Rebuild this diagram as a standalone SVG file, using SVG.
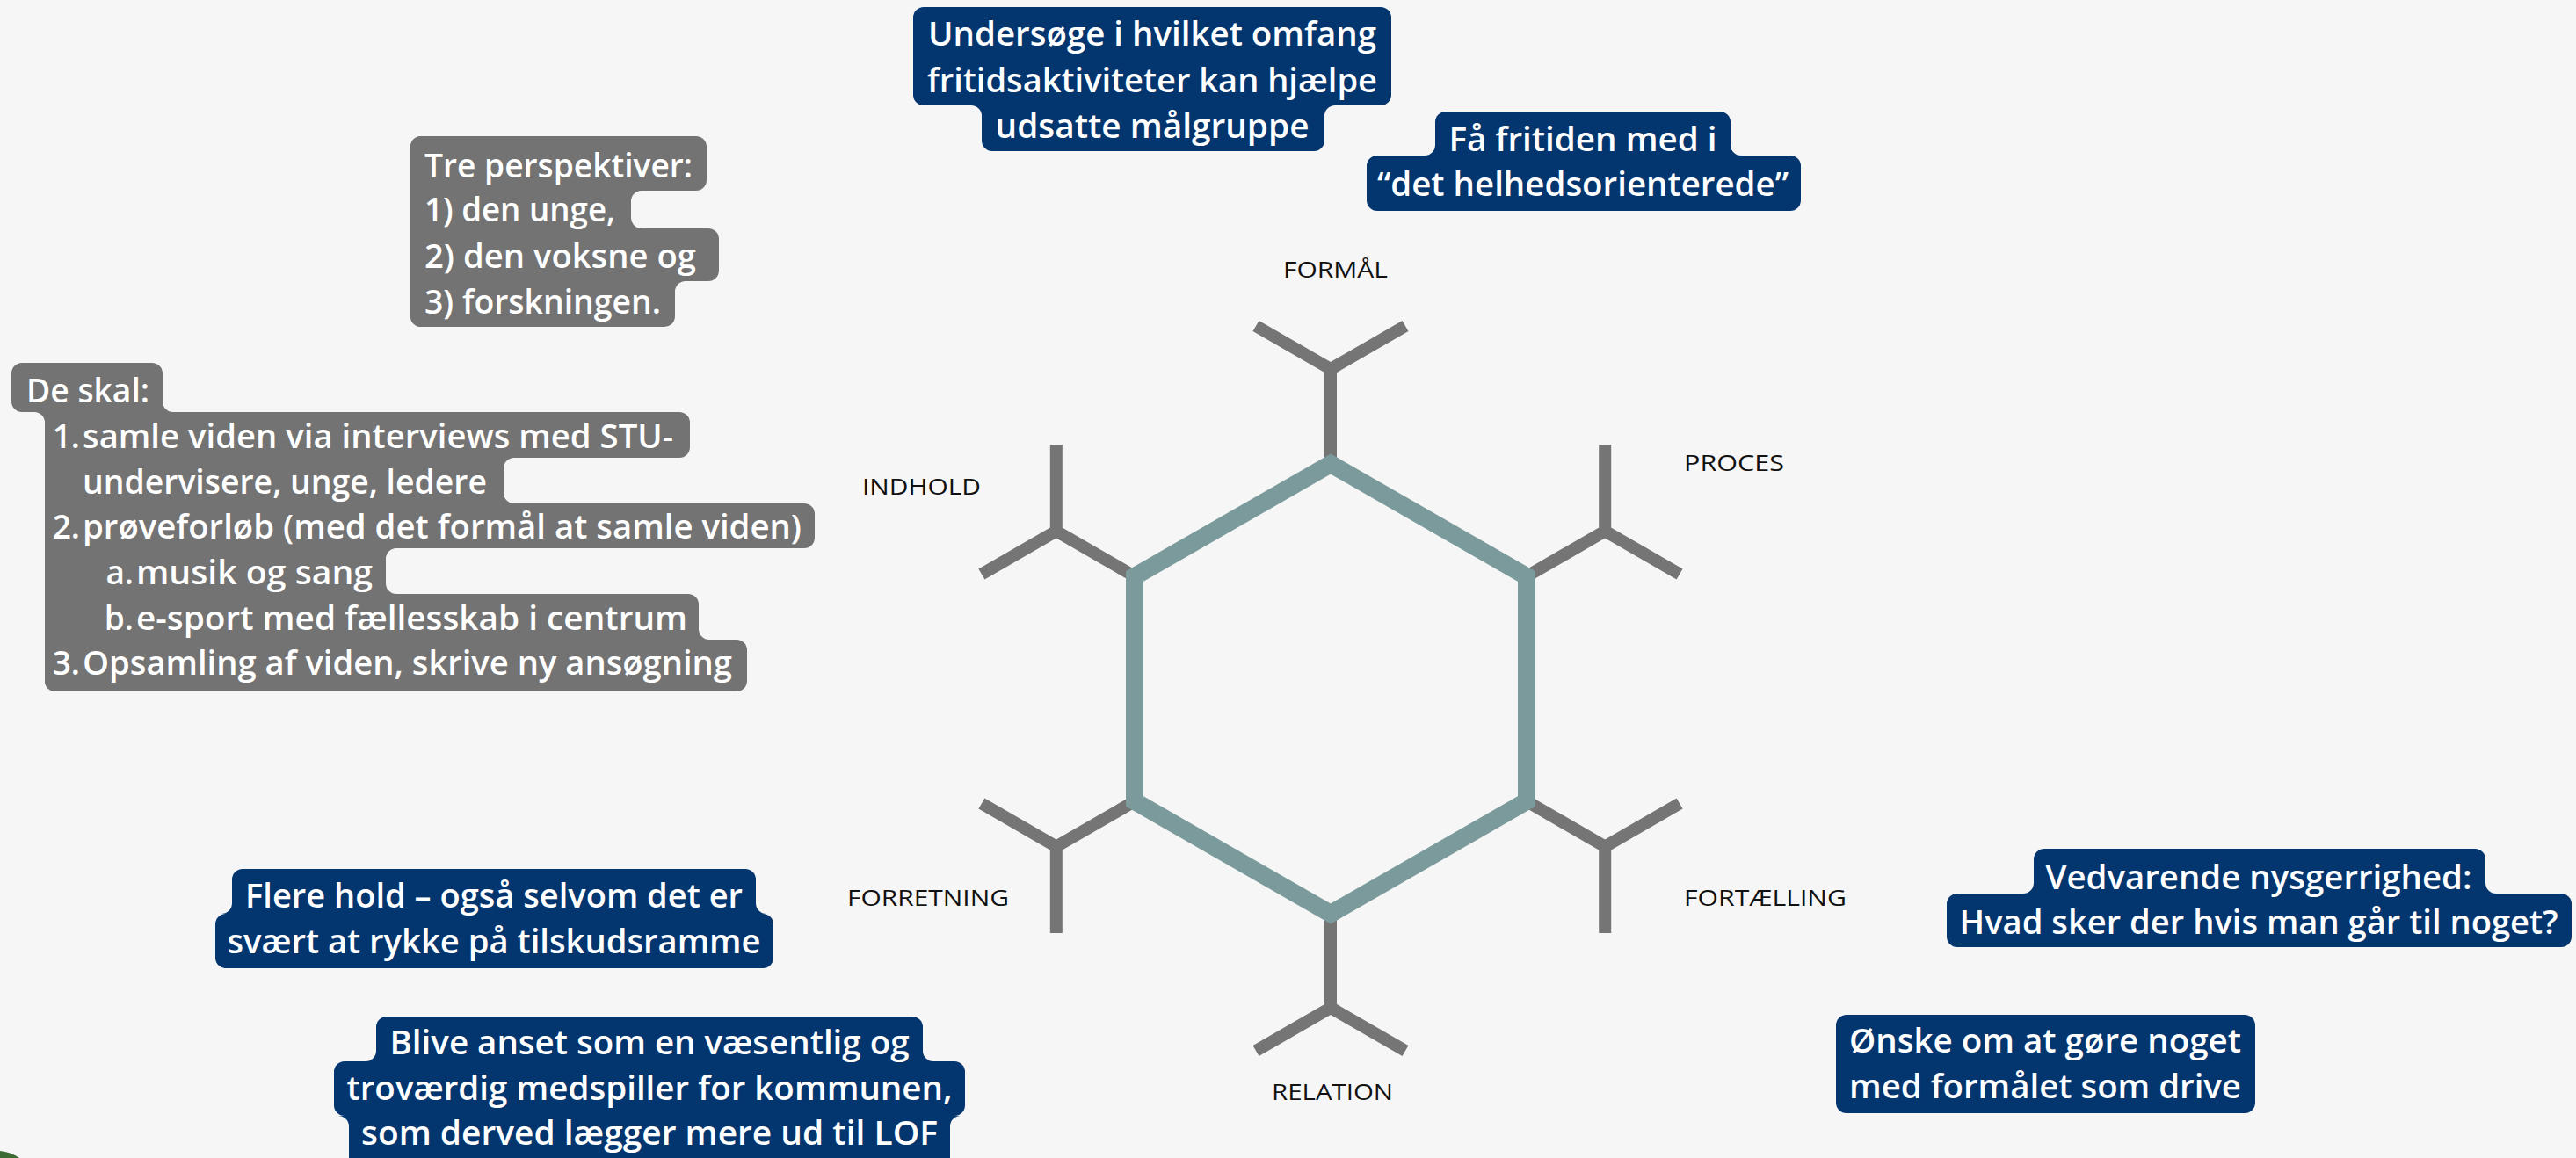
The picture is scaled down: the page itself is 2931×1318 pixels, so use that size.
<svg xmlns="http://www.w3.org/2000/svg" width="2931" height="1318" viewBox="0 0 2931 1318">
<style>
.bl{fill:#03356F}
.gr{fill:#737373}
.t{font-family:"Open Sans","Liberation Sans",sans-serif;font-size:37px;font-weight:600;fill:#ffffff}
.c{text-anchor:middle}
.e{text-anchor:end}
.lab{font-family:"Open Sans","Liberation Sans",sans-serif;font-size:25px;fill:#111111}
.arm{fill:none;stroke:#757575;stroke-width:14;stroke-linecap:butt;stroke-linejoin:miter}
.hex{fill:none;stroke:#7B9A9B;stroke-width:20;stroke-linejoin:miter}
</style>
<rect width="2931" height="1318" fill="#F6F6F6"/>
<path d="M0,1310 Q12,1311 22,1318 L0,1318 Z" fill="#3b6a33"/>

<g id="connectors">
  <line class="arm" x1="1514" y1="528" x2="1514" y2="420"/>
  <polyline class="arm" points="1429,371 1514,420 1599,371"/>
  <line class="arm" x1="1737" y1="656" x2="1826.2" y2="604.5"/>
  <polyline class="arm" points="1826.2,506 1826.2,604.5 1911.1,653.5"/>
  <line class="arm" x1="1737" y1="912" x2="1826.2" y2="963.5"/>
  <polyline class="arm" points="1911.1,914.5 1826.2,963.5 1826.2,1062"/>
  <line class="arm" x1="1514" y1="1040" x2="1514" y2="1147"/>
  <polyline class="arm" points="1429,1196 1514,1147 1599,1196"/>
  <line class="arm" x1="1291" y1="912" x2="1201.8" y2="963.5"/>
  <polyline class="arm" points="1116.9,914.5 1201.8,963.5 1201.8,1062"/>
  <line class="arm" x1="1291" y1="656" x2="1201.8" y2="604.5"/>
  <polyline class="arm" points="1201.8,506 1201.8,604.5 1116.9,653.5"/>
  <polygon class="hex" points="1514,528 1737,656 1737,912 1514,1040 1291,912 1291,656"/>
</g>

<g id="label-formaal"><text class="lab" x="1460" y="316" textLength="119" lengthAdjust="spacingAndGlyphs">FORMÅL</text></g>
<g id="label-proces"><text class="lab" x="1916" y="536" textLength="114" lengthAdjust="spacingAndGlyphs">PROCES</text></g>
<g id="label-indhold"><text class="lab" x="981" y="563" textLength="135" lengthAdjust="spacingAndGlyphs">INDHOLD</text></g>
<g id="label-forretning"><text class="lab" x="964" y="1031" textLength="184" lengthAdjust="spacingAndGlyphs">FORRETNING</text></g>
<g id="label-fortaelling"><text class="lab" x="1916" y="1031" textLength="185" lengthAdjust="spacingAndGlyphs">FORTÆLLING</text></g>
<g id="label-relation"><text class="lab" x="1447" y="1252" textLength="138" lengthAdjust="spacingAndGlyphs">RELATION</text></g>

<g id="box-undersoege">
  <rect class="bl" x="1039" y="8" width="544" height="112" rx="12"/>
  <rect class="bl" x="1117" y="106" width="390" height="66" rx="12"/>
  <path class="bl" d="M1105,120 L1117,120 L1117,132 A12 12 0 0 0 1105,120 Z"/>
  <path class="bl" d="M1519,120 L1507,120 L1507,132 A12 12 0 0 1 1519,120 Z"/>
  <text class="t c" x="1311" y="52" textLength="510" lengthAdjust="spacingAndGlyphs">Undersøge i hvilket omfang</text>
  <text class="t c" x="1311" y="105" textLength="512" lengthAdjust="spacingAndGlyphs">fritidsaktiviteter kan hjælpe</text>
  <text class="t c" x="1311" y="157" textLength="357" lengthAdjust="spacingAndGlyphs">udsatte målgruppe</text>
</g>

<g id="box-fritiden">
  <rect class="bl" x="1633" y="127" width="336" height="64" rx="12"/>
  <rect class="bl" x="1555" y="177" width="494" height="63" rx="12"/>
  <path class="bl" d="M1621,177 L1633,177 L1633,165 A12 12 0 0 1 1621,177 Z"/>
  <path class="bl" d="M1981,177 L1969,177 L1969,165 A12 12 0 0 0 1981,177 Z"/>
  <text class="t c" x="1801" y="172" textLength="305" lengthAdjust="spacingAndGlyphs">Få fritiden med i</text>
  <text class="t c" x="1801" y="223" textLength="468" lengthAdjust="spacingAndGlyphs">“det helhedsorienterede”</text>
</g>

<g id="box-perspektiver">
  <rect class="gr" x="467" y="155" width="240" height="217" rx="12"/>
  <rect class="gr" x="467" y="155" width="337" height="62" rx="12"/>
  <rect class="gr" x="467" y="203" width="251" height="71" rx="12"/>
  <rect class="gr" x="467" y="260" width="351" height="60" rx="12"/>
  <rect class="gr" x="467" y="306" width="301" height="66" rx="12"/>
  <path class="gr" d="M730,217 L718,217 L718,229 A12 12 0 0 1 730,217 Z"/>
  <path class="gr" d="M730,260 L718,260 L718,248 A12 12 0 0 0 730,260 Z"/>
  <path class="gr" d="M780,320 L768,320 L768,332 A12 12 0 0 1 780,320 Z"/>
  <text class="t" x="483" y="202" textLength="305" lengthAdjust="spacingAndGlyphs">Tre perspektiver:</text>
  <text class="t" x="483" y="252" textLength="217" lengthAdjust="spacingAndGlyphs">1) den unge,</text>
  <text class="t" x="483" y="305" textLength="309" lengthAdjust="spacingAndGlyphs">2) den voksne og</text>
  <text class="t" x="483" y="357" textLength="269" lengthAdjust="spacingAndGlyphs">3) forskningen.</text>
</g>

<g id="box-de-skal">
  <rect class="gr" x="13" y="413" width="172" height="56" rx="12"/>
  <rect class="gr" x="51" y="455" width="134" height="28"/>
  <rect class="gr" x="51" y="469" width="370" height="318" rx="12"/>
  <rect class="gr" x="51" y="469" width="734" height="52" rx="12"/>
  <rect class="gr" x="51" y="507" width="522" height="80" rx="12"/>
  <rect class="gr" x="51" y="573" width="876" height="51" rx="12"/>
  <rect class="gr" x="51" y="610" width="388" height="80" rx="12"/>
  <rect class="gr" x="51" y="676" width="744" height="66" rx="12"/>
  <rect class="gr" x="51" y="728" width="799" height="59" rx="12"/>
  <path class="gr" d="M39,469 L51,469 L51,481 A12 12 0 0 0 39,469 Z"/>
  <path class="gr" d="M197,469 L185,469 L185,457 A12 12 0 0 0 197,469 Z"/>
  <path class="gr" d="M585,521 L573,521 L573,533 A12 12 0 0 1 585,521 Z"/>
  <path class="gr" d="M585,573 L573,573 L573,561 A12 12 0 0 0 585,573 Z"/>
  <path class="gr" d="M451,624 L439,624 L439,636 A12 12 0 0 1 451,624 Z"/>
  <path class="gr" d="M451,676 L439,676 L439,664 A12 12 0 0 0 451,676 Z"/>
  <path class="gr" d="M807,728 L795,728 L795,716 A12 12 0 0 0 807,728 Z"/>
  <text class="t" x="30" y="458" textLength="140" lengthAdjust="spacingAndGlyphs">De skal:</text>
  <text class="t e" x="91" y="510">1.</text>
  <text class="t" x="94" y="510" textLength="672" lengthAdjust="spacingAndGlyphs">samle viden via interviews med STU-</text>
  <text class="t" x="94" y="562" textLength="460" lengthAdjust="spacingAndGlyphs">undervisere, unge, ledere</text>
  <text class="t e" x="91" y="613">2.</text>
  <text class="t" x="94" y="613" textLength="818" lengthAdjust="spacingAndGlyphs">prøveforløb (med det formål at samle viden)</text>
  <text class="t e" x="152" y="665">a.</text>
  <text class="t" x="155" y="665" textLength="269" lengthAdjust="spacingAndGlyphs">musik og sang</text>
  <text class="t e" x="152" y="717">b.</text>
  <text class="t" x="155" y="717" textLength="627" lengthAdjust="spacingAndGlyphs">e-sport med fællesskab i centrum</text>
  <text class="t e" x="91" y="768">3.</text>
  <text class="t" x="94" y="768" textLength="739" lengthAdjust="spacingAndGlyphs">Opsamling af viden, skrive ny ansøgning</text>
</g>

<g id="box-flere-hold">
  <rect class="bl" x="264" y="989" width="596" height="65" rx="12"/>
  <rect class="bl" x="245" y="1040" width="635" height="62" rx="12"/>
  <path class="bl" d="M252,1040 L264,1040 L264,1028 A12 12 0 0 1 252,1040 Z"/>
  <path class="bl" d="M872,1040 L860,1040 L860,1028 A12 12 0 0 0 872,1040 Z"/>
  <text class="t c" x="562" y="1033" textLength="566" lengthAdjust="spacingAndGlyphs">Flere hold – også selvom det er</text>
  <text class="t c" x="562" y="1085" textLength="607" lengthAdjust="spacingAndGlyphs">svært at rykke på tilskudsramme</text>
</g>

<g id="box-blive-anset">
  <rect class="bl" x="428" y="1157" width="622" height="65" rx="12"/>
  <rect class="bl" x="380" y="1208" width="718" height="62" rx="12"/>
  <rect class="bl" x="397" y="1256" width="684" height="80" rx="12"/>
  <path class="bl" d="M416,1208 L428,1208 L428,1196 A12 12 0 0 1 416,1208 Z"/>
  <path class="bl" d="M1062,1208 L1050,1208 L1050,1196 A12 12 0 0 0 1062,1208 Z"/>
  <path class="bl" d="M385,1270 L397,1270 L397,1282 A12 12 0 0 0 385,1270 Z"/>
  <path class="bl" d="M1093,1270 L1081,1270 L1081,1282 A12 12 0 0 1 1093,1270 Z"/>
  <text class="t c" x="739" y="1200" textLength="591" lengthAdjust="spacingAndGlyphs">Blive anset som en væsentlig og</text>
  <text class="t c" x="739" y="1252" textLength="689" lengthAdjust="spacingAndGlyphs">troværdig medspiller for kommunen,</text>
  <text class="t c" x="739" y="1303" textLength="656" lengthAdjust="spacingAndGlyphs">som derved lægger mere ud til LOF</text>
</g>

<g id="box-nysgerrighed">
  <rect class="bl" x="2314" y="966" width="514" height="65" rx="12"/>
  <rect class="bl" x="2215" y="1017" width="711" height="61" rx="12"/>
  <path class="bl" d="M2302,1017 L2314,1017 L2314,1005 A12 12 0 0 1 2302,1017 Z"/>
  <path class="bl" d="M2840,1017 L2828,1017 L2828,1005 A12 12 0 0 0 2840,1017 Z"/>
  <text class="t c" x="2570" y="1012" textLength="485" lengthAdjust="spacingAndGlyphs">Vedvarende nysgerrighed:</text>
  <text class="t c" x="2570" y="1063" textLength="681" lengthAdjust="spacingAndGlyphs">Hvad sker der hvis man går til noget?</text>
</g>

<g id="box-oenske">
  <rect class="bl" x="2089" y="1155" width="477" height="112" rx="12"/>
  <text class="t c" x="2327" y="1198" textLength="446" lengthAdjust="spacingAndGlyphs">Ønske om at gøre noget</text>
  <text class="t c" x="2327" y="1250" textLength="446" lengthAdjust="spacingAndGlyphs">med formålet som drive</text>
</g>
</svg>
